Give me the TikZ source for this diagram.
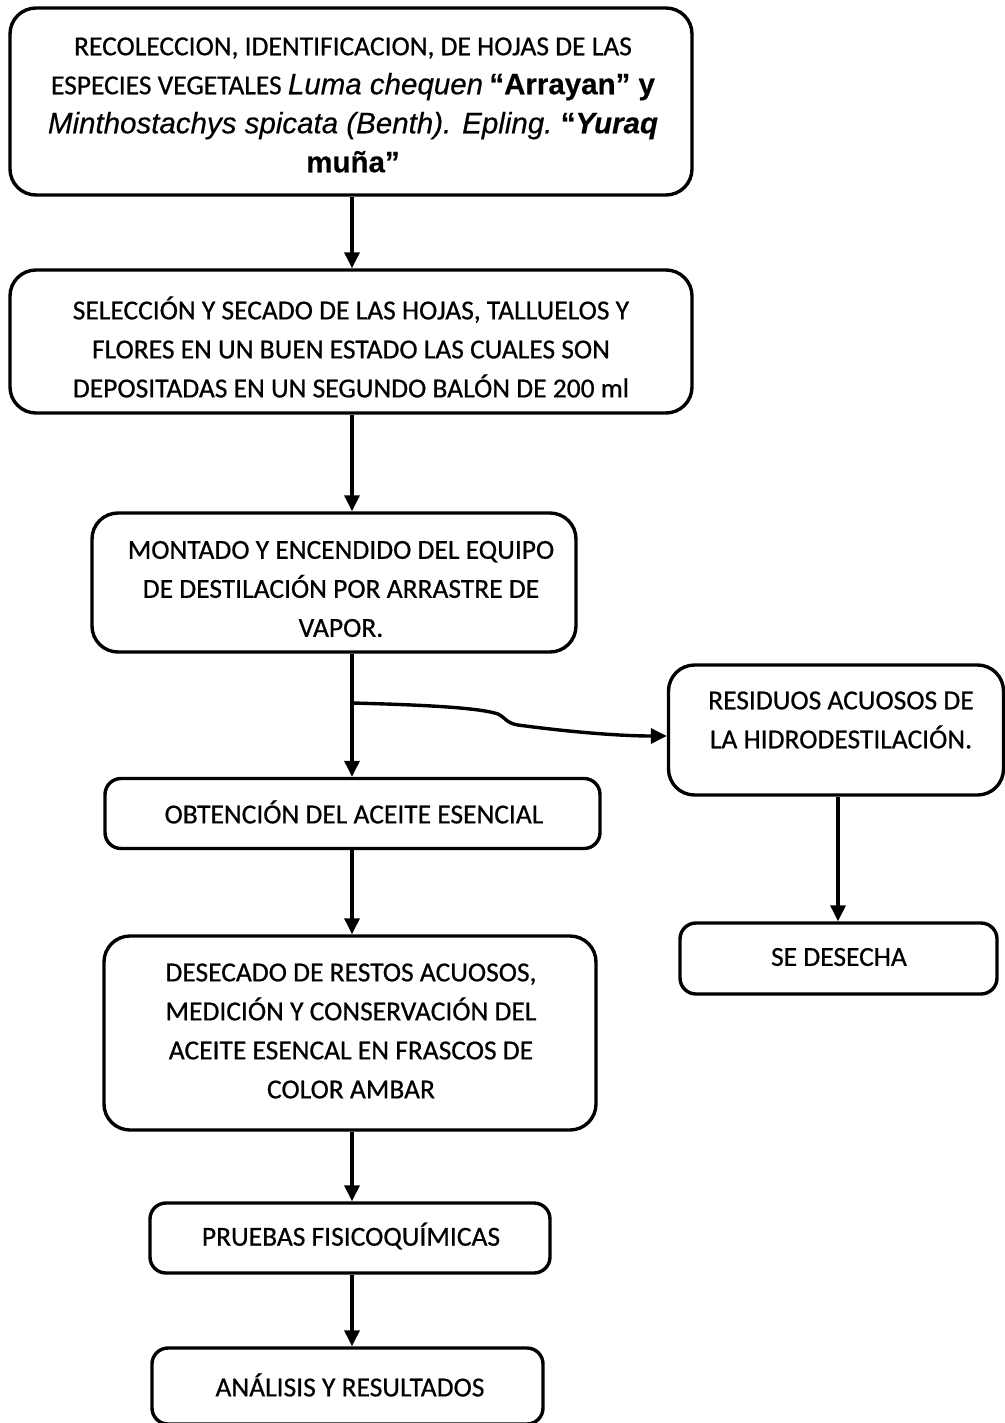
\documentclass[tikz,border=0pt]{standalone}
\usepackage{fontspec}
\setmainfont{Carlito}[FakeBold=0.6]
\newfontfamily\arial{Liberation Sans}[FakeBold=0.4]
\usetikzlibrary{arrows.meta}
\begin{document}
\begin{tikzpicture}[x=1pt,y=-1pt,
  box/.style={draw, line width=3.4pt, rounded corners=26pt, inner sep=0pt},
  sbox/.style={draw, line width=3.4pt, rounded corners=16pt, inner sep=0pt},
  txt/.style={align=center, inner sep=0pt, font=\fontsize{27.5}{39}\selectfont},
  arr/.style={line width=3.4pt, -{Triangle[width=15pt,length=16pt]}}]
\fill[white] (0,0) rectangle (1004,1423);
\useasboundingbox (0,0) rectangle (1004,1423);
% boxes
\node[box, minimum width=682pt, minimum height=187pt] (b1) at (351,101.5) {};
\node[box, minimum width=682pt, minimum height=143pt] (b2) at (351,341.5) {};
\node[box, minimum width=484pt, minimum height=139pt] (b3) at (334,582.5) {};
\node[box, minimum width=335pt, minimum height=130pt] (b4) at (836,730) {};
\node[sbox, minimum width=495pt, minimum height=70pt] (b5) at (352.5,813.5) {};
\node[box, minimum width=492pt, minimum height=194pt] (b6) at (350,1033) {};
\node[sbox, minimum width=317pt, minimum height=71pt] (b7) at (838.5,958.5) {};
\node[sbox, minimum width=400pt, minimum height=70pt] (b8) at (350,1238) {};
\node[sbox, minimum width=391pt, minimum height=76pt] (b9) at (347.5,1386) {};
% texts
\node[txt] (t1) at (353,105) {RECOLECCION, IDENTIFICACION, DE HOJAS DE LAS\\
ESPECIES VEGETALES {\fontsize{29.5}{39}\selectfont\arial\itshape Luma chequen} {\fontsize{29.5}{39}\selectfont\arial\bfseries “Arrayan” y}\\
{\fontsize{29.5}{39}\selectfont\arial\itshape Minthostachys spicata (Benth). Epling.} {\fontsize{29.5}{39}\selectfont\arial\bfseries “\itshape Yuraq}\\
{\fontsize{29.5}{39}\selectfont\arial\bfseries muña”}};
\node[txt] (t2) at (351,347) {SELECCIÓN Y SECADO DE LAS HOJAS, TALLUELOS Y\\
FLORES EN UN BUEN ESTADO LAS CUALES SON\\
DEPOSITADAS EN UN SEGUNDO BALÓN DE 200 ml};
\node[txt] (t3) at (341,589) {MONTADO Y ENCENDIDO DEL EQUIPO\\
DE DESTILACIÓN POR ARRASTRE DE\\
VAPOR.};
\node[txt] (t4) at (841,720) {RESIDUOS ACUOSOS DE\\LA HIDRODESTILACIÓN.};
\node[txt] (t5) at (354,812) {OBTENCIÓN DEL ACEITE ESENCIAL};
\node[txt] (t6) at (351,1031) {DESECADO DE RESTOS ACUOSOS,\\
MEDICIÓN Y CONSERVACIÓN DEL\\
ACEITE ESENCAL EN FRASCOS DE\\
COLOR AMBAR};
\node[txt] (t7) at (839,957) {SE DESECHA};
\node[txt] (t8) at (351,1236) {PRUEBAS FISICOQUÍMICAS};
\node[txt] (t9) at (350,1385) {ANÁLISIS Y RESULTADOS};
% connectors
\draw[arr] (b1.south -| 352,0) -- (b2.north -| 352,0);
\draw[arr] (b2.south -| 352,0) -- (b3.north -| 352,0);
\coordinate (br) at (352,703);
\draw[arr] (b3.south -| 352,0) -- (b5.north -| 352,0);
\draw[arr] (br) .. controls (430,705) and (480,708) .. (498,714)
  .. controls (506,718) and (506,723) .. (518,725)
  .. controls (570,732) and (620,736) .. (b4.west |- 0,736);
\draw[arr] (b4.south -| 838,0) -- (b7.north -| 838,0);
\draw[arr] (b5.south -| 352,0) -- (b6.north -| 352,0);
\draw[arr] (b6.south -| 352,0) -- (b8.north -| 352,0);
\draw[arr] (b8.south -| 352,0) -- (b9.north -| 352,0);
\end{tikzpicture}
\end{document}
